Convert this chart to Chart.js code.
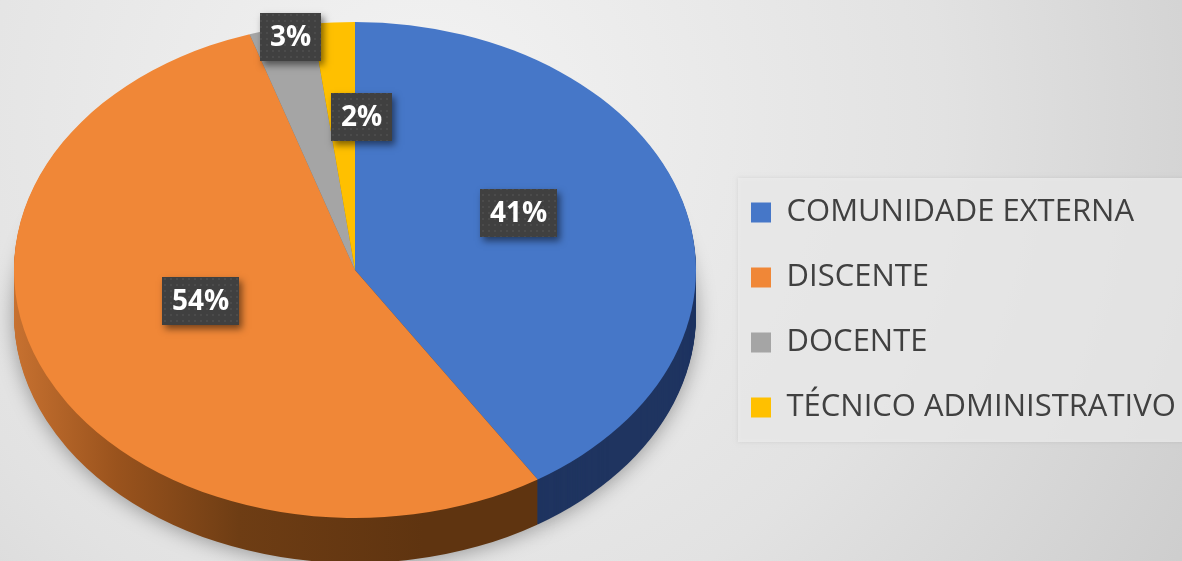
<!DOCTYPE html>
<html><head><meta charset="utf-8">
<script src="https://cdn.jsdelivr.net/npm/chart.js@4.4.1/dist/chart.umd.min.js"></script>
<style>html,body{margin:0;padding:0;background:#e4e4e4;overflow:hidden}canvas{display:block}</style>
</head><body>
<canvas id="c" width="1182" height="561"></canvas>
<script>
// ---- data ----
const categories = ['COMUNIDADE EXTERNA', 'DISCENTE', 'DOCENTE', 'TÉCNICO ADMINISTRATIVO'];
const percentValues = [41, 54, 3, 2];
const percentLabels = ['41%', '54%', '3%', '2%'];

// ---- styles ----
const topColors = ['#4677C8', '#F08737', '#A5A5A5', '#FFC000'];
const sideColors = ['#1f3460', '#633812', '#6e6e6e', '#a88000'];
const PIE = { cx: 355, cy: 270, rx: 341, ry: 248, depth: 45, labelDy: -22 };
const labelRadius = [0.5, 0.5, 0.87, 0.53];
const labelShiftX = [0, 0, 0, 18];
const LEGEND = { boxLeft: 751, top: 163, bg: { x: 738, y: 178, w: 460, h: 264 } };

function dotPattern(ctx) {
  const c = document.createElement('canvas'); c.width = 6; c.height = 6;
  const g = c.getContext('2d');
  g.fillStyle = '#404040'; g.fillRect(0, 0, 6, 6);
  g.fillStyle = '#4b4b4b'; g.fillRect(2, 2, 2, 2);
  return ctx.createPattern(c, 'repeat');
}

const pie3d = {
  id: 'pie3d',
  afterLayout(chart) {
    const lg = chart.legend;
    const p = chart.options.plugins.legend.labels.padding;
    lg.left = LEGEND.boxLeft - p; lg.right = lg.left + 470;
    lg.top = LEGEND.top; lg.bottom = lg.top + 420;
  },
  beforeDraw(chart) {
    const ctx = chart.ctx, W = chart.width, H = chart.height;
    ctx.save();
    const g = ctx.createRadialGradient(420, 120, 0, 420, 120, 1050);
    g.addColorStop(0, '#f3f3f3');
    g.addColorStop(0.5, '#e2e2e2');
    g.addColorStop(1, '#c4c4c4');
    ctx.fillStyle = g; ctx.fillRect(0, 0, W, H);
    const b = LEGEND.bg;
    ctx.shadowColor = 'rgba(0,0,0,0.12)'; ctx.shadowBlur = 4;
    ctx.fillStyle = 'rgba(238,238,238,0.75)';
    ctx.fillRect(b.x, b.y, b.w, b.h);
    ctx.restore();
  },
  beforeDatasetsDraw(chart) {
    const ctx = chart.ctx;
    const meta = chart.getDatasetMeta(0);
    const e0 = meta.data[0];
    const cx = e0.x, cy = e0.y, R = e0.outerRadius;
    const sx = PIE.rx / R, sy = PIE.ry / R;
    for (let d = PIE.depth; d >= 1; d -= 1) {
      ctx.save();
      ctx.translate(PIE.cx, PIE.cy + d);
      ctx.scale(sx, sy);
      ctx.translate(-cx, -cy);
      if (d === PIE.depth) {
        ctx.shadowColor = 'rgba(0,0,0,0.35)';
        ctx.shadowBlur = 20;
        ctx.shadowOffsetY = 2;
      }
      meta.data.forEach((el, i) => {
        let fill = sideColors[i];
        if (i === 1) {
          const gr = ctx.createLinearGradient(cx - R, 0, cx + R * 0.2, 0);
          gr.addColorStop(0, '#c77130');
          gr.addColorStop(0.25, '#9a531d');
          gr.addColorStop(0.55, '#6e3d14');
          gr.addColorStop(1, '#5f3410');
          fill = gr;
        }
        const o = el.options;
        el.options = Object.assign({}, o, { backgroundColor: fill, borderWidth: 0 });
        el.draw(ctx);
        el.options = o;
      });
      ctx.restore();
    }
    ctx.save();
    ctx.translate(PIE.cx, PIE.cy);
    ctx.scale(sx, sy);
    ctx.translate(-cx, -cy);
  },
  afterDatasetsDraw(chart) {
    const ctx = chart.ctx;
    ctx.restore();
    const meta = chart.getDatasetMeta(0);
    const pat = dotPattern(ctx);
    ctx.save();
    ctx.font = 'bold 28px "Open Sans", "Noto Sans", sans-serif';
    ctx.textAlign = 'center';
    ctx.textBaseline = 'middle';
    meta.data.forEach((el, i) => {
      const mid = (el.startAngle + el.endAngle) / 2;
      const f = labelRadius[i];
      const x = PIE.cx + Math.cos(mid) * f * PIE.rx + labelShiftX[i];
      const y = PIE.cy + PIE.labelDy + Math.sin(mid) * f * PIE.ry;
      const t = percentLabels[i];
      const w = Math.round(ctx.measureText(t).width + 20), h = 48;
      const bx = Math.round(x - w / 2), by = Math.round(y - h / 2);
      ctx.save();
      ctx.shadowColor = 'rgba(0,0,0,0.5)';
      ctx.shadowBlur = 7; ctx.shadowOffsetX = 3; ctx.shadowOffsetY = 4;
      ctx.fillStyle = '#404040';
      ctx.fillRect(bx, by, w, h);
      ctx.restore();
      ctx.fillStyle = pat;
      ctx.fillRect(bx, by, w, h);
      ctx.fillStyle = '#ffffff';
      ctx.fillText(t, bx + w / 2, by + h / 2 + 1);
    });
    ctx.restore();
  }
};

new Chart(document.getElementById('c'), {
  type: 'pie',
  data: {
    labels: categories,
    datasets: [{
      data: percentValues,
      backgroundColor: topColors,
      borderWidth: 0,
      clip: false
    }]
  },
  options: {
    responsive: false,
    animation: false,
    layout: { padding: 0 },
    plugins: {
      tooltip: { enabled: false },
      legend: {
        position: 'right',
        align: 'start',
        labels: {
          color: '#404040',
          font: { family: '"Open Sans", "Noto Sans", sans-serif', size: 31 },
          boxWidth: 20,
          boxHeight: 20,
          padding: 34
        }
      }
    }
  },
  plugins: [pie3d]
});
</script>
</body></html>
